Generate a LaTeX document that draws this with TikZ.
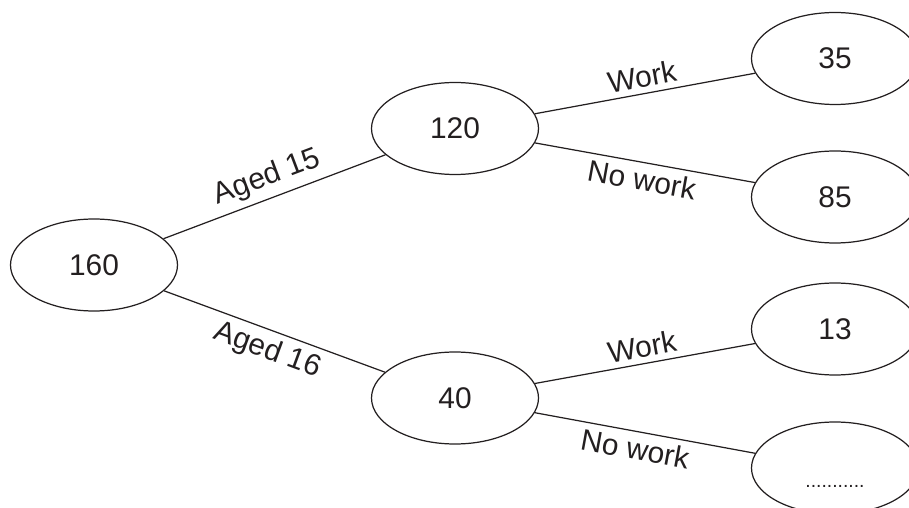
\documentclass[tikz,border=0pt]{standalone}
\usepackage{fontspec}
\setmainfont{Liberation Sans}
\usetikzlibrary{shapes.geometric}
\definecolor{ink}{HTML}{231F20}
\begin{document}
\begin{tikzpicture}[
    every node/.style={font=\fontsize{17}{20}\selectfont, text=ink},
    count/.style={draw=ink, line width=0.7pt, ellipse, minimum width=3.34cm, minimum height=1.84cm, inner sep=0pt},
    branch/.style={draw=ink, line width=0.7pt}
]
    \useasboundingbox (0,0) rectangle (18.18,10.16);
    % counts
    \node[count] (all) at (1.88,4.86) {160};
    \node[count] (age15) at (9.10,7.59) {120};
    \node[count] (age16) at (9.10,2.20) {40};
    \node[count] (work15) at (16.70,8.99) {35};
    \node[count] (nowork15) at (16.70,6.22) {85};
    \node[count] (work16) at (16.70,3.58) {13};
    \node[count] (nowork16) at (16.70,0.80) {};
    \node[font=\fontsize{11}{13}\selectfont] (gap) at ([yshift=-0.36cm]nowork16.center) {...........};
    % branches
    \draw[branch] (all) -- node[sloped,above] (l15) {Aged 15} (age15);
    \draw[branch] (all) -- node[sloped,below] (l16) {Aged 16} (age16);
    \draw[branch] (age15) -- node[sloped,above] (w15) {Work} (work15);
    \draw[branch] (age15) -- node[sloped,below] (n15) {No work} (nowork15);
    \draw[branch] (age16) -- node[sloped,above] (w16) {Work} (work16);
    \draw[branch] (age16) -- node[sloped,below,pos=0.47] (n16) {No work} (nowork16);
\end{tikzpicture}
\end{document}
